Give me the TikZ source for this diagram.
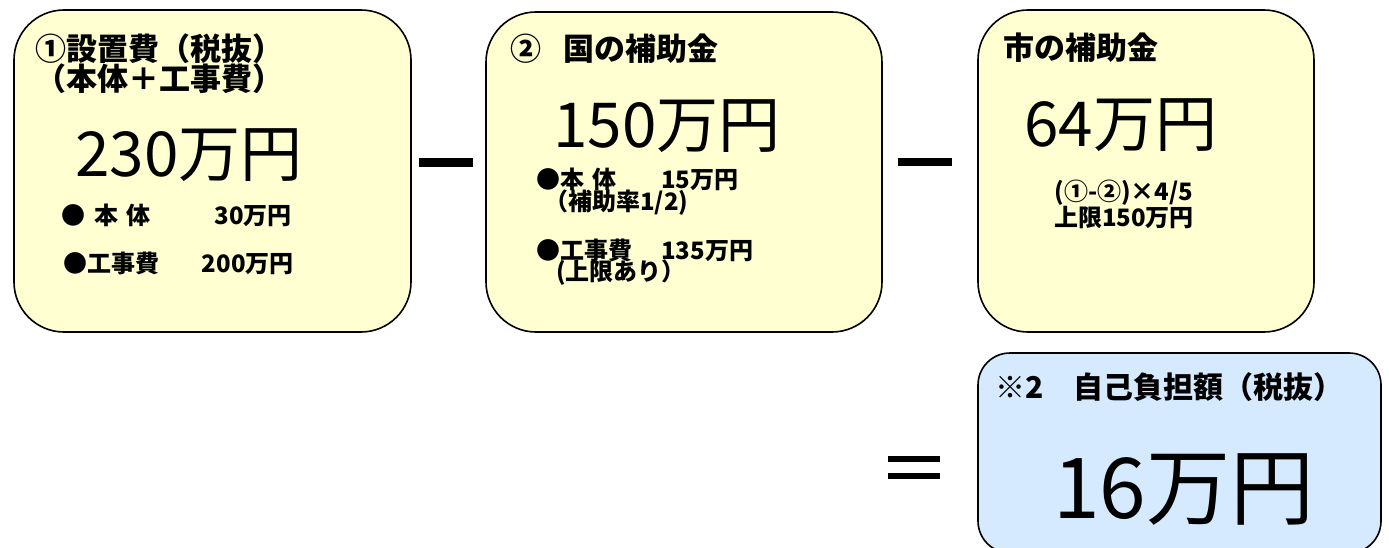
\documentclass[tikz,border=0pt]{standalone}
\usepackage{fontspec}
\newfontfamily\jp{Noto Sans CJK JP}
\definecolor{boxy}{RGB}{255,255,210}
\definecolor{boxb}{RGB}{214,234,255}
\tikzset{
  ybox/.style={draw=black, line width=1.6pt, fill=boxy, rounded corners=50pt, inner sep=0pt},
  bbox/.style={draw=black, line width=1.6pt, fill=boxb, rounded corners=32pt, inner sep=0pt},
  head/.style={anchor=base west, inner sep=0pt, font=\jp\bfseries\fontsize{31}{31}\selectfont},
  big/.style={anchor=base west, inner sep=0pt, font=\jp\fontsize{62}{62}\selectfont},
  huge/.style={anchor=base west, inner sep=0pt, font=\jp\fontsize{84}{84}\selectfont},
  small/.style={anchor=base west, inner sep=0pt, font=\jp\bfseries\fontsize{24}{24}\selectfont},
  smallr/.style={small, anchor=base east},
  bar/.style={fill=black, inner sep=0pt, draw=none}
}
\begin{document}
\begin{tikzpicture}[x=1pt,y=-1pt]
\useasboundingbox (0,0) rectangle (1389,548);
% boxes
\node[ybox, minimum width=397pt, minimum height=322pt] (b1) at (212.5,171) {};
\node[ybox, minimum width=396pt, minimum height=320pt] (b2) at (684,172) {};
\node[ybox, minimum width=336pt, minimum height=322pt] (b3) at (1146,171) {};
\node[bbox, minimum width=403pt, minimum height=200pt] (b4) at (1179.5,453) {};
% operators
\node[bar, minimum width=54pt, minimum height=9pt] (m1) at (446,162.5) {};
\node[bar, minimum width=54pt, minimum height=8pt] (m2) at (925,162) {};
\node[bar, minimum width=52pt, minimum height=6.5pt] (e1) at (914,459) {};
\node[bar, minimum width=52pt, minimum height=6.5pt] (e2) at (914,476) {};
% box 1
\node[head] (t11) at (35,61) {①設置費（税抜）};
\node[head] (t12) at (35,91) {（本体＋工事費）};
\node[big] (t13) at (75,177) {230万円};
\node[small] (t14) at (61,225) {●\hspace{9pt}本\hspace{8pt}体};
\node[smallr] (t15) at (292,225) {30万円};
\node[small] (t16) at (63,272) {●工事費};
\node[smallr] (t17) at (294,272) {200万円};
% box 2
\node[head] (t21) at (510,61) {②\hspace{22pt}国の補助金};
\node[big] (t22) at (553,148) {150万円};
\node[small] (t23) at (536,189) {●本\hspace{8pt}体};
\node[small] (t24) at (661,189) {15万円};
\node[small] (t25) at (544,211) {（補助率1/2)};
\node[small] (t26) at (536,259) {●工事費};
\node[small] (t27) at (661,259) {135万円};
\node[small] (t28) at (556,280) {(上限あり）};
% box 3
\node[head] (t31) at (1003,60) {市の補助金};
\node[big] (t32) at (1024,147) {64万円};
\node[small, anchor=north, align=center, font=\jp\bfseries\fontsize{24}{21}\selectfont] (t33) at (1124,180) {(①-②)×4/5\\上限150万円};
% box 4
\node[head, font=\jp\bfseries\fontsize{30}{30}\selectfont] (t41) at (995,398) {※2　自己負担額（税抜）};
\node[huge] (t42) at (1053,518) {16万円};
\end{tikzpicture}
\end{document}
